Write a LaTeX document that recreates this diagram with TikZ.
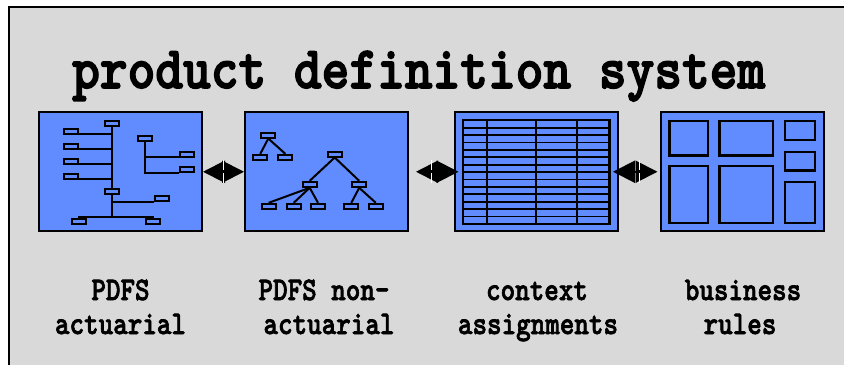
\documentclass[tikz,border=0pt]{standalone}
\usepackage{graphicx}
\usetikzlibrary{arrows.meta}

\definecolor{panelblue}{RGB}{96,140,255}
\definecolor{slidegray}{RGB}{217,217,217}

% heavy typewriter faces for the heading and the captions
\font\headfont="[lmmonolt10-bold.otf]:embolden=2.6" at 60pt
\font\capfont="[lmmonolt10-bold.otf]:embolden=2.2" at 33pt

\begin{document}
\begin{tikzpicture}[x=1pt,y=-1pt,
  panel/.style={draw, line width=2pt, fill=panelblue, inner sep=0pt,
                minimum width=163pt, minimum height=119pt},
  leaf/.style={draw, line width=2pt, fill=panelblue, inner sep=0pt,
               minimum width=14pt, minimum height=5pt},
  twig/.style={line width=2pt},
  cell/.style={draw, line width=2.3pt, fill=panelblue},
  link/.style={line width=2pt,
    {Triangle[length=22pt 0 0,width=22pt 0 0]}-{Triangle[length=22pt 0 0,width=22pt 0 0]}},
  seam/.style={fill=white, inner sep=0pt, minimum width=1.2pt, minimum height=23pt},
  seamdot/.style={fill=black, inner sep=0pt, minimum width=1.4pt, minimum height=3pt},
  caption/.style={anchor=base, inner sep=0pt},
]
\useasboundingbox (0,0) rectangle (844,365);
\fill[white] (0,0) rectangle (844,365);
\fill[slidegray] (9,7) rectangle (844,365);
\draw[line width=2pt] (9,365) -- (9,7) -- (844,7);

% heading
\node[anchor=base west, inner sep=0pt] (head) at (72,88)
  {\scalebox{0.88}[1]{\headfont product definition system}};

% the four panels
\node[panel] (pa) at (120.5,171.75) {};
\node[panel] (pb) at (326.5,171.75) {};
\node[panel] (pc) at (536.5,171.75) {};
\node[panel] (pd) at (742.5,171.75) {};

% panel A: organisation chart
\draw[twig] (111.7,127) -- (111.7,188.5);
\foreach \y in {134,149,164,179} \draw[twig] (78.7,\y) -- (111.7,\y);
\draw[twig] (145,141.5) -- (145,172.7) -- (179,172.7);
\draw[twig] (145,156.7) -- (179,156.7);
\draw[twig] (111.7,194.5) -- (111.7,216.7);
\draw[twig] (111.7,202) -- (154,202);
\draw[twig] (78,216.7) -- (154,216.7);
\node[leaf] (a0) at (112,123.5) {};
\node[leaf] (a1) at (70.7,131) {};
\node[leaf] (a2) at (70.7,146) {};
\node[leaf] (a3) at (70.7,161) {};
\node[leaf] (a4) at (70.7,176) {};
\node[leaf] (a5) at (112,191.5) {};
\node[leaf] (a6) at (145,138.3) {};
\node[leaf] (a7) at (186.5,154) {};
\node[leaf] (a8) at (186.5,169) {};
\node[leaf] (a9) at (161.5,198.5) {};
\node[leaf] (a10) at (79,221.5) {};
\node[leaf] (a11) at (153.3,221.5) {};

% panel B: two hierarchies
\node[leaf] (s0) at (268.3,135) {};
\node[leaf] (s1) at (260.3,157.3) {};
\node[leaf] (s2) at (285.3,157.3) {};
\node[leaf] (r0) at (334.7,154) {};
\node[leaf] (c1) at (309.7,184.3) {};
\node[leaf] (c2) at (359.2,184.3) {};
\node[leaf] (g1) at (268.7,206.3) {};
\node[leaf] (g2) at (293.7,206.3) {};
\node[leaf] (g3) at (318,206.3) {};
\node[leaf] (g4) at (351.3,206.3) {};
\node[leaf] (g5) at (375.8,206.3) {};
\foreach \p/\c in {s0/s1,s0/s2,r0/c1,r0/c2,c1/g1,c1/g2,c1/g3,c2/g4,c2/g5}
  \draw[twig] (\p.south) -- (\c.north);

% panel C: assignment table
\draw[line width=2.5pt, fill=panelblue] (463,120.2) rectangle (609.5,223.8);
\foreach \k in {1,...,13}
  \draw[line width=1.8pt] (463,{120.2+\k*103.6/14}) -- (609.5,{120.2+\k*103.6/14});
\foreach \x in {487.1,536.2,577.2}
  \draw[line width=2.4pt] (\x,120.2) -- (\x,223.8);

% panel D: rule layout
\draw[cell] (669.5,121.2) rectangle (707.9,155.6);
\draw[cell] (719.5,121.2) rectangle (773.2,155.6);
\draw[cell] (785.2,121.2) rectangle (814.9,139.9);
\draw[cell] (785.2,151.8) rectangle (814.9,170.6);
\draw[cell] (669.5,166.2) rectangle (707.9,222.9);
\draw[cell] (719.5,166.2) rectangle (773.2,222.9);
\draw[cell] (785.2,182.2) rectangle (814.9,222.9);

% two-way links between the panels
\draw[link] (pa.east) -- node[seam]{} node[seamdot]{} (pb.west);
\draw[link, shorten <=7pt, shorten >=-4.5pt] (pb.east) -- node[seam]{} node[seamdot]{} (pc.west);
\draw[link, shorten <=-6pt, shorten >=2.5pt] (pc.east) -- node[seam]{} node[seamdot]{} (pd.west);

% captions
\node[caption] (ca1) at (120.5,300) {\scalebox{0.84}[1]{\capfont PDFS}};
\node[caption] (ca2) at (120.5,334) {\scalebox{0.84}[1]{\capfont actuarial}};
\node[caption] (cb1) at (324,300) {\scalebox{0.84}[1]{\capfont PDFS non-}};
\node[caption] (cb2) at (329,334) {\scalebox{0.84}[1]{\capfont actuarial}};
\node[caption] (cc1) at (537,300) {\scalebox{0.84}[1]{\capfont context}};
\node[caption] (cc2) at (538,334) {\scalebox{0.84}[1]{\capfont assignments}};
\node[caption] (cd1) at (743,300) {\scalebox{0.84}[1]{\capfont business}};
\node[caption] (cd2) at (740,334) {\scalebox{0.84}[1]{\capfont rules}};
\end{tikzpicture}
\end{document}
